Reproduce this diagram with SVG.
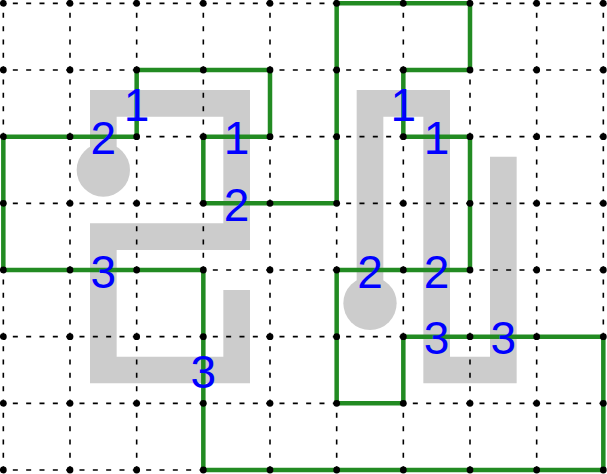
<svg xmlns="http://www.w3.org/2000/svg" width="607" height="474" viewBox="0 0 607 474">
<style>
.grid{stroke:#000;stroke-width:1.6;stroke-dasharray:5 8.333;stroke-dashoffset:3.833;fill:none}
.region{stroke:#cccccc;stroke-width:26.67;stroke-linecap:square;stroke-linejoin:miter;fill:none}
.blob{fill:#cccccc}
.loop{stroke:#228b22;stroke-width:4.5;stroke-linejoin:miter;fill:none}
.dot{fill:#000}
.lbl{font-family:"Liberation Sans",Arial,sans-serif;font-size:46px;fill:#0000ff;text-anchor:middle}
</style>
<rect width="607" height="474" fill="#fff"/>
<g id="regions">
<path class="region" d="M103.33,170 V103.33 H236.67 V236.67 H103.33 V370 H236.67 V303.33"/>
<circle class="blob" cx="103.33" cy="170" r="26.67"/>
<path class="region" d="M370,303.33 V103.33 H436.67 V370 H503.33 V170"/>
<circle class="blob" cx="370" cy="303.33" r="26.67"/>
</g>
<g id="grid">
<path class="grid" d="M3.33,3.33 H603.33 M3.33,70 H603.33 M3.33,136.67 H603.33 M3.33,203.33 H603.33 M3.33,270 H603.33 M3.33,336.67 H603.33 M3.33,403.33 H603.33 M3.33,470 H603.33"/>
<path class="grid" d="M3.33,3.33 V470 M70,3.33 V470 M136.67,3.33 V470 M203.33,3.33 V470 M270,3.33 V470 M336.67,3.33 V470 M403.33,3.33 V470 M470,3.33 V470 M536.67,3.33 V470 M603.33,3.33 V470"/>
</g>
<g id="connectors">
<path id="loop" class="loop" d="M3.33,136.67 H136.67 V70 H270 V136.67 H203.33 V203.33 H336.67 V3.33 H470 V70 H403.33 V136.67 H470 V270 H336.67 V403.33 H403.33 V336.67 H603.33 V470 H203.33 V270 H3.33 Z"/>
</g>
<g id="dots">
<circle class="dot" cx="3.33" cy="3.33" r="3.4"/><circle class="dot" cx="70" cy="3.33" r="3.4"/><circle class="dot" cx="136.67" cy="3.33" r="3.4"/><circle class="dot" cx="203.33" cy="3.33" r="3.4"/><circle class="dot" cx="270" cy="3.33" r="3.4"/><circle class="dot" cx="336.67" cy="3.33" r="3.4"/><circle class="dot" cx="403.33" cy="3.33" r="3.4"/><circle class="dot" cx="470" cy="3.33" r="3.4"/><circle class="dot" cx="536.67" cy="3.33" r="3.4"/><circle class="dot" cx="603.33" cy="3.33" r="3.4"/>
<circle class="dot" cx="3.33" cy="70" r="3.4"/><circle class="dot" cx="70" cy="70" r="3.4"/><circle class="dot" cx="136.67" cy="70" r="3.4"/><circle class="dot" cx="203.33" cy="70" r="3.4"/><circle class="dot" cx="270" cy="70" r="3.4"/><circle class="dot" cx="336.67" cy="70" r="3.4"/><circle class="dot" cx="403.33" cy="70" r="3.4"/><circle class="dot" cx="470" cy="70" r="3.4"/><circle class="dot" cx="536.67" cy="70" r="3.4"/><circle class="dot" cx="603.33" cy="70" r="3.4"/>
<circle class="dot" cx="3.33" cy="136.67" r="3.4"/><circle class="dot" cx="70" cy="136.67" r="3.4"/><circle class="dot" cx="136.67" cy="136.67" r="3.4"/><circle class="dot" cx="203.33" cy="136.67" r="3.4"/><circle class="dot" cx="270" cy="136.67" r="3.4"/><circle class="dot" cx="336.67" cy="136.67" r="3.4"/><circle class="dot" cx="403.33" cy="136.67" r="3.4"/><circle class="dot" cx="470" cy="136.67" r="3.4"/><circle class="dot" cx="536.67" cy="136.67" r="3.4"/><circle class="dot" cx="603.33" cy="136.67" r="3.4"/>
<circle class="dot" cx="3.33" cy="203.33" r="3.4"/><circle class="dot" cx="70" cy="203.33" r="3.4"/><circle class="dot" cx="136.67" cy="203.33" r="3.4"/><circle class="dot" cx="203.33" cy="203.33" r="3.4"/><circle class="dot" cx="270" cy="203.33" r="3.4"/><circle class="dot" cx="336.67" cy="203.33" r="3.4"/><circle class="dot" cx="403.33" cy="203.33" r="3.4"/><circle class="dot" cx="470" cy="203.33" r="3.4"/><circle class="dot" cx="536.67" cy="203.33" r="3.4"/><circle class="dot" cx="603.33" cy="203.33" r="3.4"/>
<circle class="dot" cx="3.33" cy="270" r="3.4"/><circle class="dot" cx="70" cy="270" r="3.4"/><circle class="dot" cx="136.67" cy="270" r="3.4"/><circle class="dot" cx="203.33" cy="270" r="3.4"/><circle class="dot" cx="270" cy="270" r="3.4"/><circle class="dot" cx="336.67" cy="270" r="3.4"/><circle class="dot" cx="403.33" cy="270" r="3.4"/><circle class="dot" cx="470" cy="270" r="3.4"/><circle class="dot" cx="536.67" cy="270" r="3.4"/><circle class="dot" cx="603.33" cy="270" r="3.4"/>
<circle class="dot" cx="3.33" cy="336.67" r="3.4"/><circle class="dot" cx="70" cy="336.67" r="3.4"/><circle class="dot" cx="136.67" cy="336.67" r="3.4"/><circle class="dot" cx="203.33" cy="336.67" r="3.4"/><circle class="dot" cx="270" cy="336.67" r="3.4"/><circle class="dot" cx="336.67" cy="336.67" r="3.4"/><circle class="dot" cx="403.33" cy="336.67" r="3.4"/><circle class="dot" cx="470" cy="336.67" r="3.4"/><circle class="dot" cx="536.67" cy="336.67" r="3.4"/><circle class="dot" cx="603.33" cy="336.67" r="3.4"/>
<circle class="dot" cx="3.33" cy="403.33" r="3.4"/><circle class="dot" cx="70" cy="403.33" r="3.4"/><circle class="dot" cx="136.67" cy="403.33" r="3.4"/><circle class="dot" cx="203.33" cy="403.33" r="3.4"/><circle class="dot" cx="270" cy="403.33" r="3.4"/><circle class="dot" cx="336.67" cy="403.33" r="3.4"/><circle class="dot" cx="403.33" cy="403.33" r="3.4"/><circle class="dot" cx="470" cy="403.33" r="3.4"/><circle class="dot" cx="536.67" cy="403.33" r="3.4"/><circle class="dot" cx="603.33" cy="403.33" r="3.4"/>
<circle class="dot" cx="3.33" cy="470" r="3.4"/><circle class="dot" cx="70" cy="470" r="3.4"/><circle class="dot" cx="136.67" cy="470" r="3.4"/><circle class="dot" cx="203.33" cy="470" r="3.4"/><circle class="dot" cx="270" cy="470" r="3.4"/><circle class="dot" cx="336.67" cy="470" r="3.4"/><circle class="dot" cx="403.33" cy="470" r="3.4"/><circle class="dot" cx="470" cy="470" r="3.4"/><circle class="dot" cx="536.67" cy="470" r="3.4"/><circle class="dot" cx="603.33" cy="470" r="3.4"/>
</g>
<g id="labels">
<text class="lbl" x="136.67" y="120.8">1</text>
<text class="lbl" x="103.33" y="154.2">2</text>
<text class="lbl" x="236.67" y="154.2">1</text>
<text class="lbl" x="236.67" y="220.8">2</text>
<text class="lbl" x="103.33" y="287.5">3</text>
<text class="lbl" x="203.33" y="387.5">3</text>
<text class="lbl" x="403.33" y="120.8">1</text>
<text class="lbl" x="436.67" y="154.2">1</text>
<text class="lbl" x="370" y="287.5">2</text>
<text class="lbl" x="436.67" y="287.5">2</text>
<text class="lbl" x="436.67" y="354.2">3</text>
<text class="lbl" x="503.33" y="354.2">3</text>
</g>
</svg>
